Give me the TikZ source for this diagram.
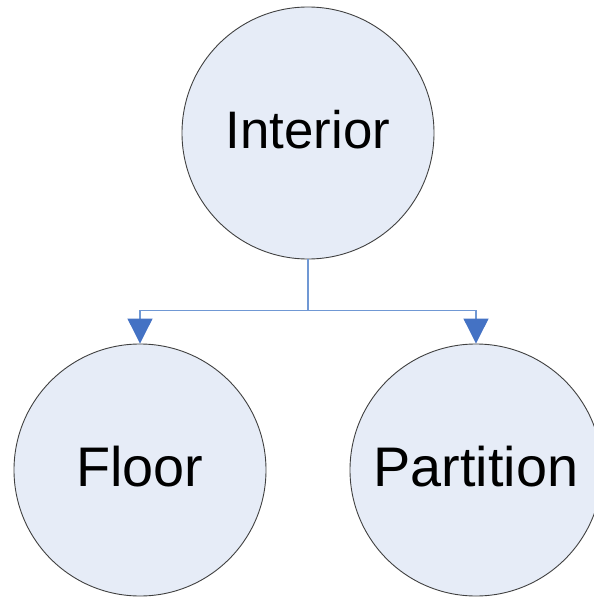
\documentclass[tikz,border=0pt]{standalone}
\usepackage{fontspec}
\setmainfont{Liberation Sans}
\usetikzlibrary{positioning}
\usetikzlibrary{arrows.meta}

\definecolor{bubblefill}{RGB}{230,236,247}
\definecolor{linkline}{RGB}{112,152,212}
\definecolor{linktip}{RGB}{68,114,196}

\tikzset{
	bubble/.style = {circle, draw = black!75, fill = bubblefill, line width = 0.9bp, minimum size = 252bp, inner sep = 0pt, text depth = 7bp, font = \fontsize{56}{62}\selectfont},
	link/.style = {linkline, line width = 1.1bp},
	linkarrow/.style = {link, -{Triangle[width = 25bp, length = 25bp, color = linktip]}}
}

\begin{document}
\begin{tikzpicture}[x = 1bp, y = -1bp]
					\useasboundingbox (0, 0) rectangle (594, 597);
					\node[bubble, font = \fontsize{53}{60}\selectfont] (interior) at (308, 133) {Interior};
					\node[bubble] (floor) at (140, 470) {Floor};
					\node[bubble] (partition) at (476, 470) {Partition};
					\draw[link] (interior.south) -- ++(0, 51) coordinate (fork);
					\draw[linkarrow] (fork) -| (floor.north);
					\draw[linkarrow] (fork) -| (partition.north);
				\end{tikzpicture}
\end{document}
